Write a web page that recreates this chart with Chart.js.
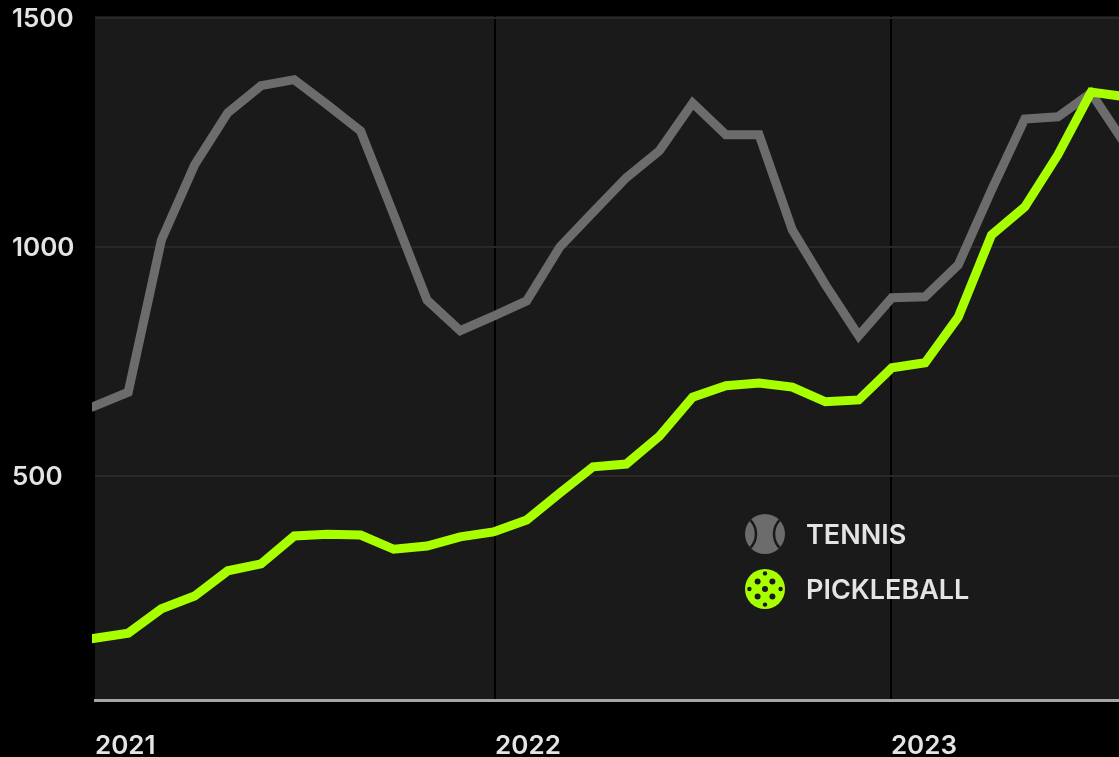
<!DOCTYPE html>
<html>
<head>
<meta charset="utf-8">
<title>Tennis and pickleball</title>
<script src="https://cdn.jsdelivr.net/npm/chart.js@4"></script>
<style>
	html, body { margin: 0; background: #000; }
	#wrap { width: 1119px; height: 757px; }
</style>
</head>
<body>
<div id="wrap"><canvas id="chart"></canvas></div>
<script>
// monthly values, starting January 2021
const tennis = [653, 683, 1015, 1179, 1293, 1352, 1365, 1310, 1253, 1070, 884, 817,
	849, 882, 1000, 1076, 1151, 1210, 1314, 1245, 1245, 1037, 917, 806,
	889, 891, 961, 1124, 1279, 1284, 1336, 1227];
const pickleball = [146, 157, 210, 238, 293, 308, 369, 373, 371, 340, 347, 367,
	378, 404, 463, 520, 526, 587, 672, 697, 703, 694, 662, 666,
	736, 747, 847, 1026, 1087, 1201, 1338, 1328];
const yearTicks = [0, 12.05, 23.97];
const yearLabels = ["2021", "2022", "2023"];
const valueTicks = [500, 1000, 1500];

const font = {family: "Inter", size: 26, weight: "600"};
const textColor = "#e4e4e4";
const tennisColor = "#6c6c6c";
const pickleColor = "#a8ff00";
const darkColor = "#1a1a1a";

const toPoints = values => values.map((y, x) => ({x, y}));

const drawTennisBall = (ctx, x, y, r) => {
	ctx.fillStyle = tennisColor;
	ctx.beginPath();
	ctx.arc(x, y, r, 0, Math.PI * 2);
	ctx.fill();
	ctx.save();
	ctx.clip();
	ctx.strokeStyle = darkColor;
	ctx.lineWidth = 2.5;
	ctx.beginPath();
	ctx.arc(x - r * 1.45, y, r, -Math.PI / 2, Math.PI / 2);
	ctx.stroke();
	ctx.beginPath();
	ctx.arc(x + r * 1.45, y, r, Math.PI / 2, Math.PI * 1.5);
	ctx.stroke();
	ctx.restore();
};

const drawPickleball = (ctx, x, y, r) => {
	ctx.fillStyle = pickleColor;
	ctx.beginPath();
	ctx.arc(x, y, r, 0, Math.PI * 2);
	ctx.fill();
	ctx.fillStyle = darkColor;
	const dot = (dx, dy, size) => {
		ctx.beginPath();
		ctx.arc(x + dx * r, y + dy * r, size, 0, Math.PI * 2);
		ctx.fill();
	};
	dot(0, 0, 3);
	[[-0.37, -0.37], [0.37, -0.37], [-0.37, 0.37], [0.37, 0.37]].forEach(p => dot(p[0], p[1], 3));
	[[0, -0.78], [0, 0.78], [-0.78, 0], [0.78, 0]].forEach(p => dot(p[0], p[1], 2.2));
};

// dark panel behind the plot
const panel = {
	id: "panel",
	beforeDraw(chart) {
		const {ctx, chartArea: a} = chart;
		ctx.save();
		ctx.fillStyle = darkColor;
		ctx.fillRect(a.left, a.top, a.right - a.left, a.bottom - a.top);
		ctx.restore();
	},
};

// the legend sits inside the plot, so it is drawn by hand
const ballLegend = {
	id: "ballLegend",
	afterDraw(chart) {
		const {ctx} = chart;
		const icons = [drawTennisBall, drawPickleball];
		const rows = [534, 589];
		ctx.save();
		chart.data.datasets.forEach((ds, i) => {
			icons[i](ctx, 765, rows[i], 20);
			ctx.fillStyle = textColor;
			ctx.font = `${font.weight} 27px ${font.family}`;
			ctx.textBaseline = "middle";
			ctx.textAlign = "left";
			ctx.fillText(ds.label, 806, rows[i] + 2);
		});
		ctx.restore();
	},
};

const lineClip = {left: 3, top: 8, right: 0, bottom: 8};

const lineStyle = {
	borderWidth: 9,
	borderJoinStyle: "miter",
	borderCapStyle: "square",
	pointRadius: 0,
	tension: 0,
	clip: lineClip,
};

new Chart(document.getElementById("chart"), {
	type: "line",
	data: {
		datasets: [{
			label: "TENNIS",
			data: toPoints(tennis),
			borderColor: tennisColor,
			order: 2,
			...lineStyle,
		}, {
			label: "PICKLEBALL",
			data: toPoints(pickleball),
			borderColor: pickleColor,
			order: 1,
			...lineStyle,
		}],
	},
	options: {
		responsive: true,
		maintainAspectRatio: false,
		animation: false,
		layout: {padding: {top: 16, right: 0, bottom: 0, left: 12}},
		plugins: {
			legend: {display: false},
			tooltip: {enabled: false},
		},
		scales: {
			x: {
				type: "linear",
				min: 0,
				max: 30.84,
				afterBuildTicks: scale => {
					scale.ticks = yearTicks.map(value => ({value}));
				},
				afterFit: scale => {
					scale.height = 57;
					scale.paddingLeft = 0;
					scale.paddingRight = 0;
				},
				grid: {
					color: ctx => ctx.tick && ctx.tick.value === 0 ? "transparent" : "#000",
					lineWidth: 2,
					drawTicks: false,
				},
				border: {color: "#a6a6a6", width: 3},
				ticks: {
					align: "start",
					maxRotation: 0,
					padding: 31,
					color: textColor,
					font,
					callback: value => yearLabels[yearTicks.indexOf(value)],
				},
			},
			y: {
				min: 11,
				max: 1504,
				afterBuildTicks: scale => {
					scale.ticks = valueTicks.map(value => ({value}));
				},
				afterFit: scale => {
					scale.width = 83;
					// the top label may overhang the plot without pushing it down
					scale.paddingTop = 0;
					scale.paddingBottom = 0;
				},
				grid: {
					color: "#282828",
					lineWidth: 2,
					drawTicks: false,
				},
				border: {display: false},
				ticks: {
					crossAlign: "far",
					padding: 12,
					labelOffset: 1,
					color: textColor,
					font,
					callback: value => String(value),
				},
			},
		},
	},
	plugins: [panel, ballLegend],
});
</script>
</body>
</html>
